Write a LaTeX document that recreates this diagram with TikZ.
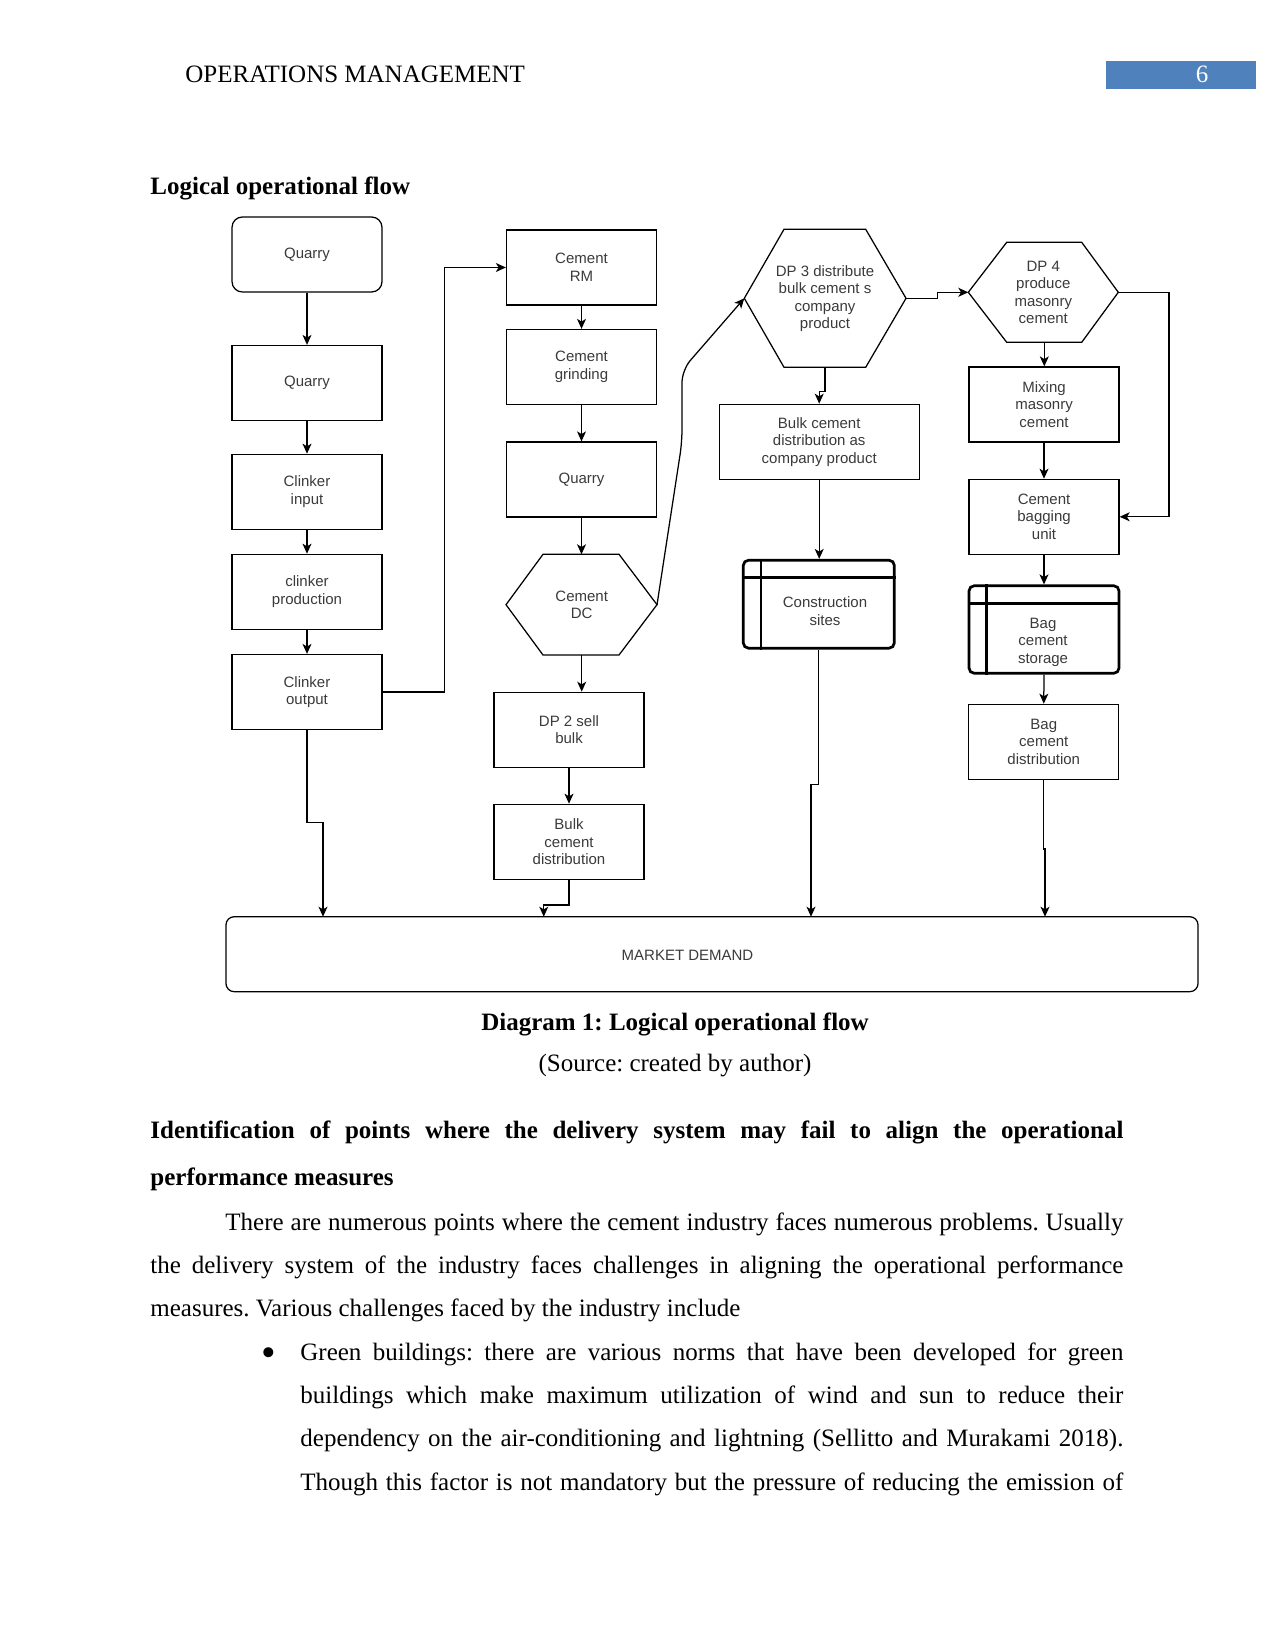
\documentclass[tikz,border=0pt]{standalone}
\usepackage{fontspec}
\setmainfont{Liberation Serif}
\newfontfamily\dsans{Liberation Sans}
\usetikzlibrary{arrows.meta}
\definecolor{hdrblue}{HTML}{4F81BD}
\definecolor{dtext}{HTML}{3A3A3A}
\frenchspacing
\begin{document}
\begin{tikzpicture}[x=0.48pt,y=-0.48pt,
  box/.style={draw=black, line width=0.6pt, minimum width=72pt, minimum height=36pt, inner sep=1pt, align=center, font=\dsans\fontsize{7.2}{8.4}\selectfont, text=dtext},
  lbl/.style={inner sep=0pt, align=center, font=\dsans\fontsize{7.2}{8.4}\selectfont, text=dtext},
  thk/.style={draw=black, line width=1.3pt, rounded corners=2.5pt, inner sep=0pt},
  shp/.style={draw=black, line width=0.6pt},
  conn/.style={line width=0.6pt, -{Stealth[length=4.8pt,width=4.3pt,inset=1.3pt]}},
  body/.style={inner sep=0pt, anchor=base west, font=\fontsize{12}{14}\selectfont},
  bodyb/.style={body, font=\bfseries\fontsize{12}{14}\selectfont},
]
\path[use as bounding box] (0,0) rectangle (1275,1650);

% ---------- page header ----------
\node[body] (hdr) at (185,82.7) {OPERATIONS MANAGEMENT};
\fill[hdrblue] (1106,61) rectangle (1256,89);
\node[body, anchor=base, text=white] (pgn) at (1202,82.7) {6};
\node[bodyb] (ttl) at (150,195) {Logical operational flow};

% ---------- left column ----------
\node[box, rounded corners=5pt] (q1) at (307,254.5) {Quarry};
\node[box] (q2) at (307,383) {Quarry};
\node[box] (ci) at (307,491.8) {Clinker\\input};
\node[box] (cp) at (307,591.8) {clinker\\production};
\node[box] (co) at (307,692) {Clinker\\output};

% ---------- middle column ----------
\node[box] (crm) at (581.5,267.5) {Cement\\RM};
\node[box] (cg) at (581.5,367) {Cement\\grinding};
\node[box] (q3) at (581.5,479.5) {Quarry};
\coordinate (cdcL) at (506,604.7);
\coordinate (cdcR) at (657,604.7);
\coordinate (cdcT) at (581.5,554.3);
\coordinate (cdcB) at (581.7,655);
\draw[shp] (cdcL) -- (543,554.3) -- (619,554.3) -- (cdcR) -- (619,655) -- (543,655) -- cycle;
\node[lbl] (cdc) at (581.7,604.7) {Cement\\DC};
\node[box] (dp2) at (569,729.8) {DP 2 sell\\bulk};
\node[box] (bcd) at (569,841.8) {Bulk\\cement\\distribution};

% ---------- DP3 column ----------
\coordinate (dp3L) at (744.3,298.3);
\coordinate (dp3R) at (906,298.3);
\coordinate (dp3B) at (825,367.3);
\draw[shp] (dp3L) -- (784,229.3) -- (865.7,229.3) -- (dp3R) -- (865.7,367.3) -- (784,367.3) -- cycle;
\node[lbl] (dp3) at (825,298.5) {DP 3 distribute\\bulk cement s\\company\\product};
\node[box, minimum width=96pt] (bcdc) at (819.2,441.8) {Bulk cement\\distribution as\\company product};
\node[thk, minimum width=72.5pt, minimum height=42.2pt] (cs) at (818.8,604.2) {};
\draw[line width=1.3pt] ([xshift=9.1pt]cs.north west) -- ([xshift=9.1pt]cs.south west);
\draw[line width=1.3pt] ([yshift=-9.1pt]cs.north west) -- ([yshift=-9.1pt]cs.north east);
\node[lbl] (cst) at (825,611.3) {Construction\\sites};

% ---------- DP4 column ----------
\coordinate (dp4L) at (968.3,292.3);
\coordinate (dp4R) at (1118.3,292.3);
\coordinate (dp4B) at (1044.3,342.3);
\draw[shp] (dp4L) -- (1006.7,242.3) -- (1081.7,242.3) -- (dp4R) -- (1081.7,342.3) -- (1006.7,342.3) -- cycle;
\node[lbl] (dp4) at (1043.3,292.5) {DP 4\\produce\\masonry\\cement};
\node[box] (mmc) at (1044,404.5) {Mixing\\masonry\\cement};
\node[box] (cbu) at (1044,516.8) {Cement\\bagging\\unit};
\node[thk, minimum width=72pt, minimum height=42pt] (bcs) at (1044,629.5) {};
\draw[line width=1.3pt] ([xshift=9.1pt]bcs.north west) -- ([xshift=9.1pt]bcs.south west);
\draw[line width=1.3pt] ([yshift=-9.1pt]bcs.north west) -- ([yshift=-9.1pt]bcs.north east);
\node[lbl] (bcst) at (1043,642.3) {Bag\\cement\\storage};
\node[box] (bcdist) at (1043.75,741.8) {Bag\\cement\\distribution};

% ---------- market demand ----------
\node[draw=black, line width=0.6pt, rounded corners=4pt, minimum width=466.6pt, minimum height=36pt, inner sep=0pt] (md) at (712,954.2) {};
\node[lbl] (mdt) at (687.5,955) {MARKET DEMAND};
\coordinate (mdIn1) at (323,916.7);
\coordinate (mdIn2) at (543.75,916.7);
\coordinate (mdIn3) at (811,916.7);
\coordinate (mdIn4) at (1045,916.7);

% ---------- connectors ----------
\draw[conn] (q1.south) -- (q2.north);
\draw[conn] (q2.south) -- (ci.north);
\draw[conn] (ci.south) -- (cp.north);
\draw[conn] (cp.south) -- (co.north);
\draw[conn] (co.east) -- ++(62,0) |- (crm.west);
\draw[conn] (co.south) -- ++(0,92.7) -| (mdIn1);
\draw[conn] (crm.south) -- (cg.north);
\draw[conn] (cg.south) -- (q3.north);
\draw[conn] (q3.south) -- (cdcT);
\draw[conn] (cdcB) -- (cdcB |- dp2.north);
\draw[conn] (dp2.south) -- (bcd.north);
\draw[conn] (bcd.south) -- ++(0,25) -| (mdIn2);
\draw[conn, rounded corners=6pt] (cdcR) -- (682,442) -- (682,370) -- (dp3L);
\draw[conn] (dp3B) -- ++(0,24.4) -| (bcdc.north);
\draw[conn] (bcdc.south) -- (bcdc.south |- cs.north);
\draw[conn] (cs.south) -- ++(0,135) -| (mdIn3);
\draw[conn] (dp3R) -- ++(31.7,0) |- (dp4L);
\draw[conn] (dp4B) -- (dp4B |- mmc.north);
\draw[conn] (dp4R) -- ++(50.7,0) |- (cbu.east);
\draw[conn] (mmc.south) -- (cbu.north);
\draw[conn] (cbu.south) -- (bcs.north);
\draw[conn] (bcs.south) -- (bcdist.north);
\draw[conn] (bcdist.south) -- ++(0,69) -| (mdIn4);

% ---------- caption and body text ----------
\node[bodyb, anchor=base] (cap) at (675,1030) {Diagram 1: Logical operational flow};
\node[body, anchor=base] (src) at (675,1071.5) {(Source: created by author)};
\node[bodyb] (h1) at (150,1138.3) {\makebox[467.04pt][s]{Identification of points where the delivery system may fail to align the operational}};
\node[bodyb] (h2) at (150,1185) {performance measures};
\node[body] (p1) at (225,1230) {\makebox[431.04pt][s]{There are numerous points where the cement industry faces numerous problems. Usually}};
\node[body] (p2) at (150,1273.3) {\makebox[467.04pt][s]{the delivery system of the industry faces challenges in aligning the operational performance}};
\node[body] (p3) at (150,1316.7) {measures. Various challenges faced by the industry include};
\node[inner sep=0pt, font=\fontsize{20}{20}\selectfont] (bul) at (268.5,1357) {•};
\node[body] (b1) at (300,1360) {\makebox[395.04pt][s]{Green buildings: there are various norms that have been developed for green}};
\node[body] (b2) at (300,1403.3) {\makebox[395.04pt][s]{buildings which make maximum utilization of wind and sun to reduce their}};
\node[body] (b3) at (300,1446.7) {\makebox[395.04pt][s]{dependency on the air-conditioning and lightning (Sellitto and Murakami 2018).}};
\node[body] (b4) at (300,1490) {\makebox[395.04pt][s]{Though this factor is not mandatory but the pressure of reducing the emission of}};
\end{tikzpicture}
\end{document}
